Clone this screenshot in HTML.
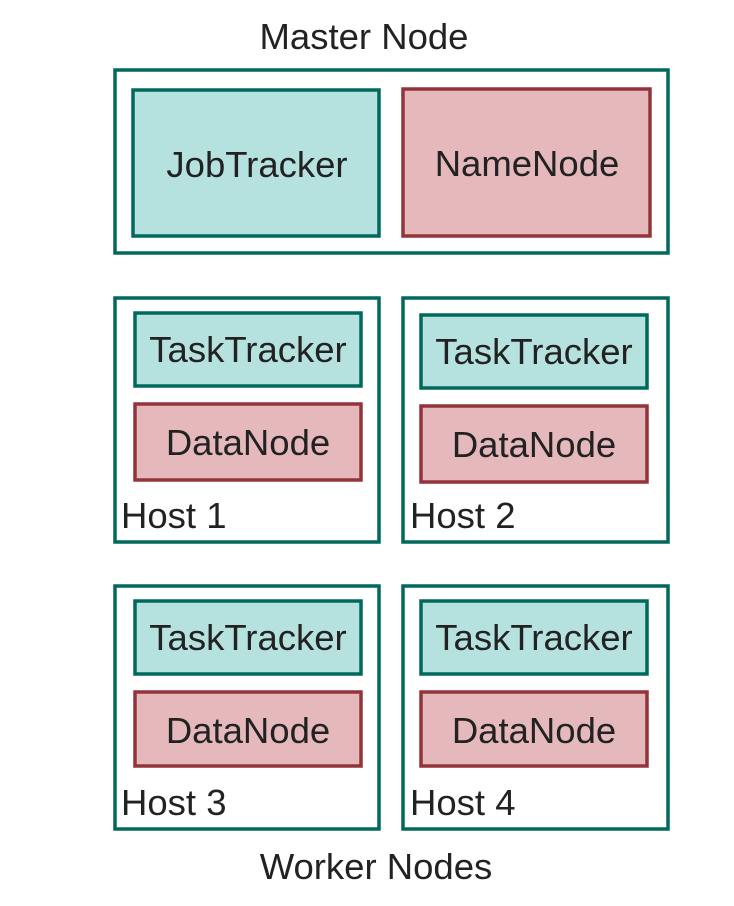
<!DOCTYPE html>
<html><head><style>body{margin:0;background:#fff}svg{display:block}text{font-family:"Liberation Sans",sans-serif;font-size:36.5px;fill:#222}</style></head><body>
<svg width="734" height="906" xmlns="http://www.w3.org/2000/svg">
<g stroke-width="3.5" fill="none">
<rect x="115" y="70" width="553" height="183" stroke="#00695c"/>
<rect x="133" y="90" width="246" height="146" fill="#b5e2df" stroke="#00695c"/>
<rect x="403" y="89" width="247" height="147" fill="#e5b8bb" stroke="#93343a"/>

<rect x="115" y="298" width="264" height="244" stroke="#00695c"/>
<rect x="135" y="313" width="226" height="73" fill="#b5e2df" stroke="#00695c"/>
<rect x="135" y="404" width="226" height="76" fill="#e5b8bb" stroke="#93343a"/>

<rect x="403" y="298" width="265" height="244" stroke="#00695c"/>
<rect x="421" y="315" width="226" height="73" fill="#b5e2df" stroke="#00695c"/>
<rect x="421" y="406" width="226" height="76" fill="#e5b8bb" stroke="#93343a"/>

<rect x="115" y="586" width="264" height="243" stroke="#00695c"/>
<rect x="135" y="601" width="226" height="73" fill="#b5e2df" stroke="#00695c"/>
<rect x="135" y="692" width="226" height="74" fill="#e5b8bb" stroke="#93343a"/>

<rect x="403" y="586" width="265" height="243" stroke="#00695c"/>
<rect x="421" y="601" width="226" height="73" fill="#b5e2df" stroke="#00695c"/>
<rect x="421" y="692" width="226" height="74" fill="#e5b8bb" stroke="#93343a"/>
</g>
<text x="364" y="49" text-anchor="middle">Master Node</text>
<text x="257" y="177" text-anchor="middle">JobTracker</text>
<text x="527" y="176" text-anchor="middle">NameNode</text>
<text x="248" y="362" text-anchor="middle">TaskTracker</text>
<text x="248" y="455" text-anchor="middle">DataNode</text>
<text x="121" y="528">Host 1</text>
<text x="534" y="364" text-anchor="middle">TaskTracker</text>
<text x="534" y="457" text-anchor="middle">DataNode</text>
<text x="410" y="528">Host 2</text>
<text x="248" y="650" text-anchor="middle">TaskTracker</text>
<text x="248" y="743" text-anchor="middle">DataNode</text>
<text x="121" y="815">Host 3</text>
<text x="534" y="650" text-anchor="middle">TaskTracker</text>
<text x="534" y="743" text-anchor="middle">DataNode</text>
<text x="410" y="815">Host 4</text>
<text x="376" y="879" text-anchor="middle">Worker Nodes</text>
</svg>
</body></html>
